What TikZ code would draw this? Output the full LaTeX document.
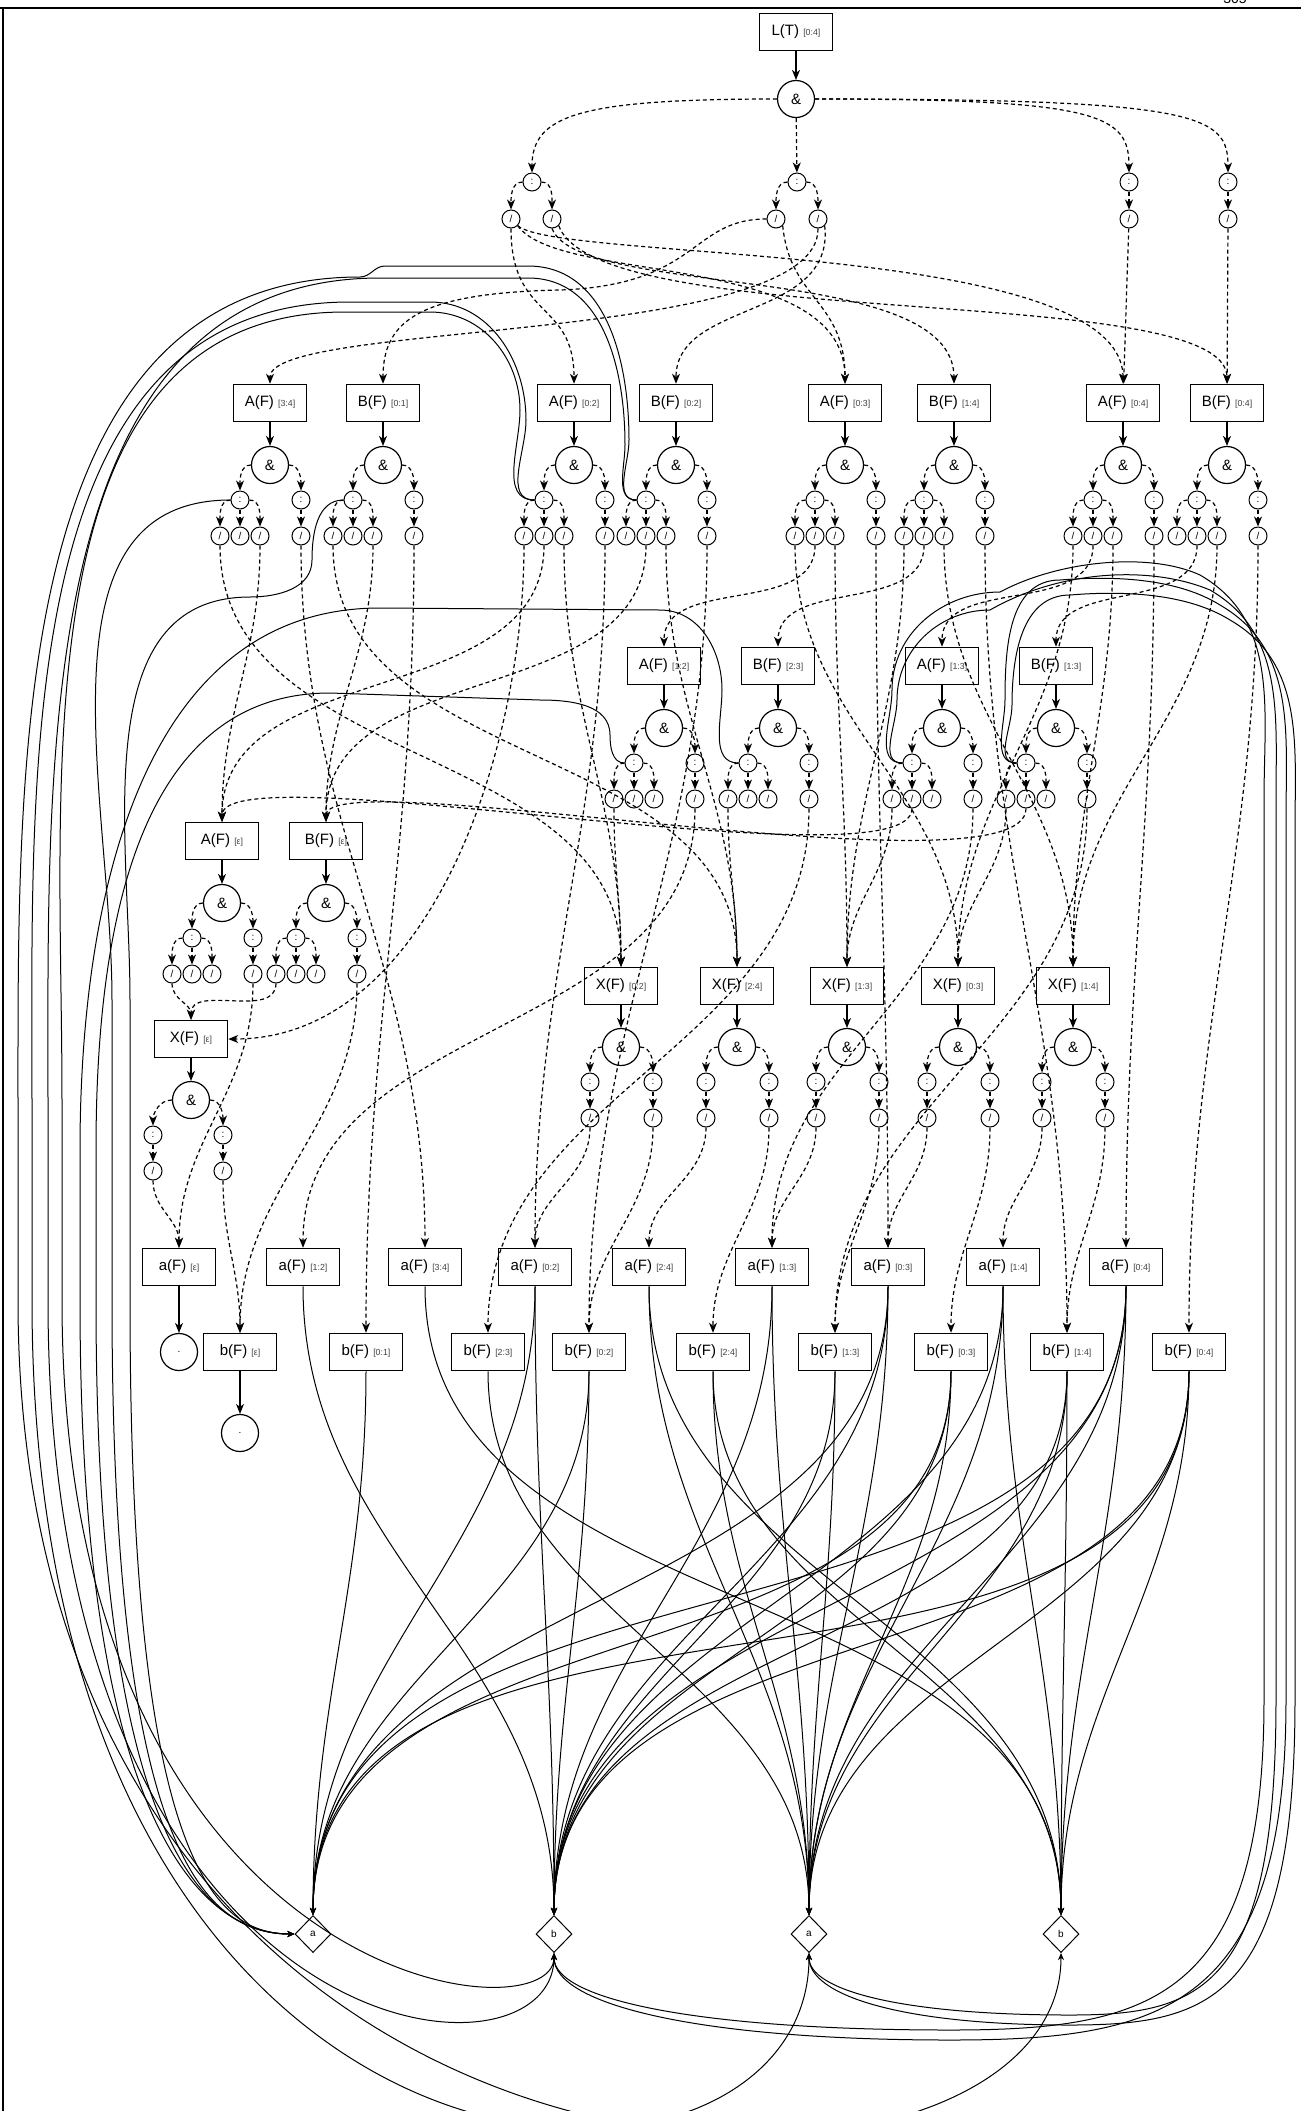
\documentclass[tikz,border=0pt]{standalone}
\usepackage{fontspec}
\setmainfont{Liberation Sans}
\usetikzlibrary{arrows.meta,shapes.geometric}
\newcommand\spantxt[1]{{\fontsize{4.4}{5}\selectfont\color{black!75}[#1]}}

\begin{document}
\begin{tikzpicture}[x=0.5pt,y=-0.5pt,
    box/.style={draw,line width=0.75pt,minimum width=36.5pt,minimum height=18.5pt,inner sep=0pt,font=\fontsize{7.5}{8}\selectfont},
    andnode/.style={circle,draw,line width=0.6pt,minimum size=18.5pt,inner sep=0pt,font=\fontsize{7.5}{8}\selectfont},
    seqnode/.style={circle,draw,line width=0.5pt,minimum size=9pt,inner sep=0pt,font=\fontsize{5}{5}\selectfont},
    charnode/.style={diamond,draw,line width=0.5pt,minimum width=18pt,minimum height=18.5pt,inner sep=0pt,font=\fontsize{5}{5}\selectfont},
    endnode/.style={circle,draw,line width=0.6pt,minimum size=18.5pt,inner sep=0pt,font=\fontsize{5}{5}\selectfont},
    link/.style={line width=0.6pt,-{Stealth[length=5pt,width=4pt,inset=1.5pt]}},
    dlink/.style={link,dash pattern=on 2pt off 1.5pt},
    wire/.style={line width=0.5pt,-{Stealth[length=3.5pt,width=3pt,inset=1pt]}}]
  \useasboundingbox (0,0) rectangle (1301,2111);
  % Draw the page frame
  \draw[line width=0.6pt] (0,8) -- (1301,8);
  \draw[line width=0.6pt] (3,8) -- (3,2111);
  \node[anchor=base,font=\fontsize{7}{8}\selectfont] (pagenum) at (1235,3) {305};

  % Draw the root
  \node[box] (LT) at (796,32) {L(T) \spantxt{0:4}};
  \node[andnode] (top-and) at (796,99) {\&};
  \foreach \n/\x in {1/532,2/797,3/1129,4/1228}
    \node[seqnode] (top-c\n) at (\x,182) {:};
  \foreach \n/\x in {1a/511,1b/552,2a/776,2b/818,3/1129,4/1228}
    \node[seqnode] (t\n) at (\x,219) {/};
  \draw[link] (LT) -- (top-and);
  \draw[dlink] (top-and.west) .. controls (580,99) and (532,115) .. (top-c1.north);
  \draw[dlink] (top-and) -- (top-c2);
  \draw[dlink] (top-and.east) .. controls (1100,99) and (1129,115) .. (top-c3.north);
  \draw[dlink] (top-and.east) .. controls (1200,99) and (1228,115) .. (top-c4.north);
  \draw[dlink] (top-c1.west) to[out=180,in=90] (t1a);
  \draw[dlink] (top-c1.east) to[out=0,in=90] (t1b);
  \draw[dlink] (top-c2.west) to[out=180,in=90] (t2a);
  \draw[dlink] (top-c2.east) to[out=0,in=90] (t2b);
  \draw[dlink] (top-c3) -- (t3);
  \draw[dlink] (top-c4) -- (t4);

  % Draw the A and B nodes
  \foreach \n/\x/\y/\t/\s in {A34/270/403/A/3:4, B01/383/403/B/0:1, A02/574/403/A/0:2, B02/676/403/B/0:2,
      A03/845/403/A/0:3, B14/954/403/B/1:4, A04/1123/403/A/0:4, B04/1227/403/B/0:4,
      A12/664/666/A/1:2, B23/778/666/B/2:3, A13/942/666/A/1:3, B13/1056/666/B/1:3,
      Ae/222/841/A/ε, Be/326/841/B/ε} {
    \node[box] (\n) at (\x,\y) {\t(F) \spantxt{\s}};
    \node[andnode] (\n-and) at (\x,\y+62) {\&};
    \node[seqnode] (\n-c1) at (\x-30,\y+97) {:};
    \node[seqnode] (\n-c2) at (\x+31,\y+97) {:};
    \node[seqnode] (\n-s1) at (\x-50,\y+133) {/};
    \node[seqnode] (\n-s2) at (\x-30,\y+133) {/};
    \node[seqnode] (\n-s3) at (\x-10,\y+133) {/};
    \node[seqnode] (\n-s4) at (\x+31,\y+133) {/};
    \draw[link] (\n) -- (\n-and);
    \draw[dlink] (\n-and.west) to[out=180,in=90] (\n-c1);
    \draw[dlink] (\n-and.east) to[out=0,in=90] (\n-c2);
    \draw[dlink] (\n-c1.west) to[out=180,in=90] (\n-s1);
    \draw[dlink] (\n-c1) -- (\n-s2);
    \draw[dlink] (\n-c1.east) to[out=0,in=90] (\n-s3);
    \draw[dlink] (\n-c2) -- (\n-s4);
  }

  % Draw the X nodes
  \foreach \n/\x/\y/\l/\s in {Xe/191/1039/38/ε, X02/621/986/31/0:2, X24/737/986/31/2:4,
      X13/847/986/31/1:3, X03/958/986/31/0:3, X14/1073/986/31/1:4} {
    \node[box] (\n) at (\x,\y) {X(F) \spantxt{\s}};
    \node[andnode] (\n-and) at (\x,\y+61) {\&};
    \node[seqnode] (\n-c1) at (\x-\l,\y+96) {:};
    \node[seqnode] (\n-c2) at (\x+32,\y+96) {:};
    \node[seqnode] (\n-s1) at (\x-\l,\y+132) {/};
    \node[seqnode] (\n-s2) at (\x+32,\y+132) {/};
    \draw[link] (\n) -- (\n-and);
    \draw[dlink] (\n-and.west) to[out=180,in=90] (\n-c1);
    \draw[dlink] (\n-and.east) to[out=0,in=90] (\n-c2);
    \draw[dlink] (\n-c1) -- (\n-s1);
    \draw[dlink] (\n-c2) -- (\n-s2);
  }

  % Draw the terminal nodes
  \foreach \n/\x/\y/\t/\s in {ae/179/1267/a/ε, a12/303/1267/a/1:2, a34/425/1267/a/3:4, a02/535/1267/a/0:2,
      a24/649/1267/a/2:4, a13/772/1267/a/1:3, a03/888/1267/a/0:3, a14/1003/1267/a/1:4, a04/1126/1267/a/0:4,
      be/240/1352/b/ε, b01/366/1352/b/0:1, b23/488/1352/b/2:3, b02/589/1352/b/0:2, b24/713/1352/b/2:4,
      b13/835/1352/b/1:3, b03/951/1352/b/0:3, b14/1067/1352/b/1:4, b04/1189/1352/b/0:4}
    \node[box] (\n) at (\x,\y) {\t(F) \spantxt{\s}};
  \node[endnode] (dot-a) at (179,1352) {.};
  \node[endnode] (dot-b) at (240,1433) {.};
  \draw[link] (ae) -- (dot-a);
  \draw[link] (be) -- (dot-b);

  % Draw the input characters
  \foreach \n/\x/\c in {0/313/a,1/554/b,2/809/a,3/1061/b}
    \node[charnode] (ch\n) at (\x,1934) {\c};

  % Draw the calls from the root
  \draw[dlink] (t1a.south) .. controls (511,320) and (574,300) .. (A02.north);
  \draw[dlink] (t1a.south east) .. controls (560,262) and (1123,240) .. (A04.north);
  \draw[dlink] (t1a.south east) .. controls (560,285) and (845,250) .. (A03.north);
  \draw[dlink] (t1b.south) .. controls (580,300) and (954,260) .. (B14.north);
  \draw[dlink] (t1b.south east) .. controls (600,335) and (1227,280) .. (B04.north);
  \draw[dlink] (t2a.west) .. controls (690,219) and (700,285) .. (560,290)
    .. controls (420,293) and (383,320) .. (B01.north);
  \draw[dlink] (t2a.south east) .. controls (790,300) and (845,300) .. (A03.north);
  \draw[dlink] (t2b.south) .. controls (820,345) and (270,320) .. (A34.north);
  \draw[dlink] (t2b.south east) .. controls (835,320) and (676,300) .. (B02.north);
  \draw[dlink] (t3) -- (A04);
  \draw[dlink] (t4) -- (B04);

  % Draw the calls between the nonterminals
  \foreach \u/\v in {A34-s1/X02, A02-s3/X02, A12-s1/X02, B01-s1/X24, B02-s3/X24, B23-s1/X24,
      A03-s3/X13, B14-s1/X13, A13-s1/X13, A03-s1/X03, A04-s1/X03, B13-s1/X03,
      B14-s3/X14, A04-s3/X14, B04-s3/X14, Ae-s1/Xe, Be-s1/Xe,
      A34-s3/Ae, A02-s2/Ae, B01-s3/Be, B02-s2/Be,
      A03-s2/A12, B14-s2/B23, A04-s2/A13, B04-s2/B13}
    \draw[dlink] (\u.south) to[out=-90,in=90] (\v.north);
  \draw[dlink] (A13-s2.south) .. controls (912,890) and (222,750) .. (Ae.north);
  \draw[dlink] (B13-s2.south) .. controls (1026,900) and (326,760) .. (Be.north);
  \draw[dlink] (A02-s1.south) to[out=-90,in=0,looseness=0.9] (Xe.east);

  % Draw the calls of the terminals
  \foreach \u/\v in {A34-s4/a34, B01-s4/b01, A02-s4/a02, B02-s4/b02, A03-s4/a03, B14-s4/b14,
      A04-s4/a04, B04-s4/b04, A12-s4/a12, B23-s4/b23, A13-s4/a13, B13-s4/b13,
      Ae-s4/ae, Be-s4/be, Xe-s1/ae, Xe-s2/be, X02-s1/a02, X02-s2/b02, X24-s1/a24, X24-s2/b24,
      X13-s1/a13, X13-s2/b13, X03-s1/a03, X03-s2/b03, X14-s1/a14, X14-s2/b14}
    \draw[dlink] (\u.south) to[out=-90,in=90] (\v.north);

  % Draw the terminals reading the input
  \foreach \u/\v in {a12/ch1, a34/ch3, a02/ch0, a02/ch1, a24/ch2, a24/ch3, a13/ch1, a13/ch2,
      a03/ch0, a03/ch1, a03/ch2, a14/ch1, a14/ch2, a14/ch3, a04/ch0, a04/ch1, a04/ch2, a04/ch3,
      b01/ch0, b23/ch2, b02/ch0, b02/ch1, b24/ch2, b24/ch3, b13/ch1, b13/ch2,
      b03/ch0, b03/ch1, b03/ch2, b14/ch1, b14/ch2, b14/ch3, b04/ch0, b04/ch1, b04/ch2, b04/ch3}
    \draw[wire] (\u.south) to[out=-90,in=90] (\v.north);

  % Draw the sequences reading the input, round the left side
  \draw[wire] (B02-c1.west) to[out=180,in=-90] (629,440) to[out=90,in=0] (528,266) -- (385,266)
    to[out=180,in=0] (360,277) to[out=180,in=90] (18,1100) -- (18,1300)
    .. controls (18,2260) and (1061,2260) .. (ch3.south);
  \draw[wire] (A02-c1.west) to[out=180,in=-90] (526,420) to[out=90,in=0] (430,302) -- (350,302)
    to[out=180,in=90] (32,1100) -- (32,1300)
    .. controls (32,2250) and (809,2250) .. (ch2.south);
  \draw[wire] (B02-c1.west) to[out=180,in=-90] (625,445) to[out=90,in=0] (528,278) -- (380,278)
    to[out=180,in=90] (48,1100) -- (48,1300)
    .. controls (48,2060) and (554,2100) .. (ch1.south);
  \draw[wire] (A02-c1.west) to[out=180,in=-90] (520,410) to[out=90,in=0] (430,312) -- (345,312)
    to[out=180,in=90] (62,1100) -- (62,1300)
    .. controls (62,1990) and (554,2040) .. (ch1.south);
  \draw[wire] (B23-c1.west) to[out=180,in=-90] (722,690) to[out=90,in=0] (660,610) -- (380,608)
    to[out=180,in=90] (80,1150) -- (80,1300)
    .. controls (80,1820) and (200,1934) .. (ch0.west);
  \draw[wire] (A12-c1.west) to[out=180,in=-90] (610,735) to[out=90,in=0] (540,700) -- (330,693)
    to[out=180,in=90] (96,1150) -- (96,1300)
    .. controls (96,1830) and (200,1934) .. (ch0.west);
  \draw[wire] (A34-c1.west) to[out=180,in=90] (112,1000) -- (112,1300)
    .. controls (112,1840) and (200,1934) .. (ch0.west);
  \draw[wire] (B01-c1.west) to[out=180,in=90] (312,560) to[out=-90,in=0] (250,597)
    to[out=180,in=90] (130,1000) -- (130,1300)
    .. controls (130,1850) and (210,1934) .. (ch0.west);

  % Draw the sequences reading the input, round the right side
  \draw[wire] (A13-c1.west) to[out=180,in=-90] (892,690) to[out=90,in=180] (1000,592)
    .. controls (1060,560) and (1150,552) .. (1200,575) to[out=-30,in=90] (1264,800) -- (1264,1700)
    .. controls (1264,2000) and (1150,2030) .. (950,2030) .. controls (700,2030) and (554,2000) .. (ch1.south);
  \draw[wire] (A13-c1.west) to[out=180,in=-90] (897,700) to[out=90,in=180] (990,610)
    .. controls (1060,570) and (1150,565) .. (1210,590) to[out=-30,in=90] (1276,800) -- (1276,1700)
    .. controls (1276,1990) and (1200,2015) .. (1070,2015) .. controls (900,2015) and (809,1990) .. (ch2.south);
  \draw[wire] (B13-c1.west) to[out=180,in=-90] (1005,700) to[out=90,in=180] (1060,580)
    .. controls (1120,575) and (1180,580) .. (1220,605) to[out=-30,in=90] (1286,820) -- (1286,1700)
    .. controls (1286,2010) and (1160,2040) .. (950,2040) .. controls (700,2040) and (554,2005) .. (ch1.south);
  \draw[wire] (B13-c1.west) to[out=180,in=-90] (1012,705) to[out=90,in=180] (1070,595)
    .. controls (1130,590) and (1190,595) .. (1230,620) to[out=-30,in=90] (1295,830) -- (1295,1700)
    .. controls (1295,2000) and (1210,2025) .. (1070,2025) .. controls (900,2025) and (809,1995) .. (ch2.south);
\end{tikzpicture}
\end{document}
